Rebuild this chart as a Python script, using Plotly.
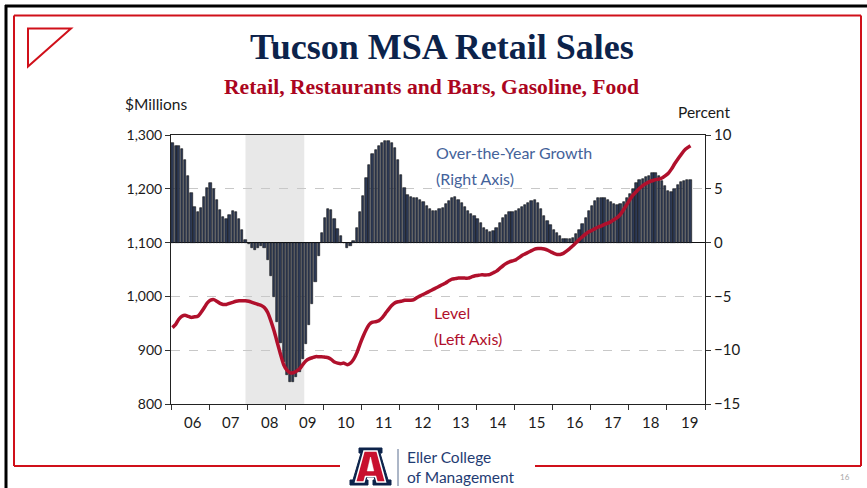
import plotly.graph_objects as go
import pandas as pd

# ---------------- data ----------------
year_labels = ["06", "07", "08", "09", "10", "11", "12", "13", "14", "15", "16", "17", "18", "19"]

growth_pct = [
    9.3, 9.0, 9.0, 8.7, 7.7, 6.2, 4.6, 3.3, 2.8, 3.2, 4.2, 5.1,            # 2006
    5.5, 5.0, 4.0, 3.0, 2.4, 2.2, 2.6, 2.9, 2.8, 2.2, 1.2, 0.2,            # 2007
    -0.1, -0.5, -0.7, -0.5, -0.3, -0.5, -1.6, -3.1, -5.1, -7.4, -9.3, -11.1,  # 2008
    -12.3, -13.0, -13.0, -12.5, -12.0, -10.8, -9.4, -7.7, -5.7, -3.7, -1.2, 0.9,  # 2009
    2.3, 3.1, 3.0, 2.2, 1.3, 0.6, 0.0, -0.5, -0.3, 0.15, 1.4, 2.8,         # 2010
    4.3, 6.0, 7.25, 8.2, 8.6, 8.95, 9.25, 9.4, 9.45, 9.3, 8.8, 7.7,        # 2011
    6.3, 5.1, 4.4, 4.2, 4.15, 4.1, 4.0, 3.8, 3.4, 3.1, 2.9, 2.9,           # 2012
    3.1, 3.2, 3.6, 3.9, 4.1, 4.2, 4.0, 3.7, 3.3, 2.9, 2.7, 2.5,            # 2013
    2.2, 1.85, 1.4, 1.2, 1.0, 1.1, 1.4, 1.85, 2.3, 2.6, 2.8, 2.8,          # 2014
    2.9, 3.1, 3.3, 3.5, 3.7, 3.9, 3.95, 3.7, 3.1, 2.5, 2.0, 1.6,           # 2015
    1.2, 0.9, 0.6, 0.37, 0.3, 0.3, 0.45, 0.77, 1.2, 1.7, 2.3, 2.9,         # 2016
    3.4, 3.85, 4.1, 4.1, 4.1, 3.95, 3.8, 3.55, 3.45, 3.55, 3.8, 4.1,       # 2017
    4.5, 5.0, 5.5, 5.8, 5.9, 6.1, 6.2, 6.5, 6.5, 6.2, 5.7, 5.25,           # 2018
    4.8, 4.7, 5.0, 5.4, 5.6, 5.7, 5.8, 5.85,                               # 2019
]

level_musd = [
    942, 948, 957, 963, 965, 963, 961, 962, 963, 970, 979, 988,            # 2006
    993, 994, 991, 987, 985, 985, 987, 989, 991, 992, 992, 992,            # 2007
    991, 989, 987, 985, 983, 979, 970, 954, 935, 914, 892, 873,            # 2008
    863, 858, 858, 861, 865, 873, 880, 884, 886, 888, 888, 888,            # 2009
    887, 886, 883, 878, 876, 875, 876, 873, 876, 883, 895, 911,            # 2010
    926, 939, 948, 952, 953, 955, 960, 968, 976, 983, 988, 990,            # 2011
    991, 993, 993, 993, 994, 998, 1001, 1004, 1007, 1010, 1013, 1016,      # 2012
    1019, 1022, 1025, 1029, 1032, 1033, 1034, 1034, 1034, 1034, 1036, 1038,  # 2013
    1039, 1040, 1040, 1040, 1041, 1044, 1047, 1052, 1057, 1061, 1064, 1066,  # 2014
    1068, 1072, 1076, 1079, 1082, 1085, 1088, 1089, 1089, 1088, 1086, 1083,  # 2015
    1080, 1078, 1078, 1080, 1084, 1089, 1094, 1100, 1106, 1111, 1116, 1120,  # 2016
    1123, 1126, 1129, 1131, 1134, 1136, 1139, 1143, 1147, 1153, 1162, 1171,  # 2017
    1181, 1189, 1195, 1201, 1206, 1210, 1213, 1215, 1217, 1218, 1220, 1224,  # 2018
    1229, 1237, 1246, 1255, 1263, 1271, 1276, 1280,                        # 2019
]

recession_start = "2007-12-15"
recession_end = "2009-06-30"

left_ticks = [800, 900, 1000, 1100, 1200, 1300]
right_ticks = [-15, -10, -5, 0, 5, 10]

months = pd.date_range("2006-01-01", periods=len(growth_pct), freq="MS") + pd.Timedelta(days=14)
year_mid = pd.date_range("2006-07-02", periods=len(year_labels), freq="12MS")

# ---------------- layout geometry helpers ----------------
W_FIG, H_FIG = 867, 488
ML, MR, MT, MB = 171, 162, 135, 84
PW = W_FIG - ML - MR
PH = H_FIG - MT - MB


def fx(x):
    return (x - ML) / PW


def fy(y):
    return (H_FIG - MB - y) / PH


def path(points):
    return "M " + " L ".join(f"{fx(a):.5f},{fy(b):.5f}" for a, b in points) + " Z"


NAVY = "#0C234B"
RED = "#AB0520"
FONT = "Lato, 'Open Sans', sans-serif"
SERIF = "'Liberation Serif', 'Times New Roman', serif"

fig = go.Figure()

fig.add_trace(go.Bar(
    x=months, y=growth_pct, yaxis="y",
    marker=dict(color="#2D3954", line=dict(color="#101010", width=0.6)),
    width=22 * 86400000,
    hoverinfo="skip",
))

fig.add_trace(go.Scatter(
    x=months, y=level_musd, yaxis="y2", mode="lines",
    line=dict(color="#B0102C", width=3.5, shape="spline", smoothing=0.6),
    hoverinfo="skip",
))

shapes = []
# recession shading
shapes.append(dict(type="rect", xref="x", yref="paper", x0=recession_start, x1=recession_end,
                   y0=0, y1=1, fillcolor="#E8E8E8", line=dict(width=0), layer="below"))
# outer black frame (top & left)
shapes.append(dict(type="line", xref="paper", yref="paper", x0=fx(5), x1=fx(867), y0=fy(6), y1=fy(6),
                   line=dict(color="black", width=3)))
shapes.append(dict(type="line", xref="paper", yref="paper", x0=fx(6), x1=fx(6), y0=fy(5), y1=fy(488),
                   line=dict(color="black", width=3)))
# red frame
RC = "#D0101A"
for (x0, y0, x1, y1) in [(14, 15.5, 861, 15.5), (14, 15.5, 14, 466), (861, 15.5, 861, 466),
                         (14, 466, 340, 466), (535, 466, 861, 466)]:
    shapes.append(dict(type="line", xref="paper", yref="paper", x0=fx(x0), x1=fx(x1), y0=fy(y0), y1=fy(y1),
                       line=dict(color=RC, width=2)))
# red triangle top-left
shapes.append(dict(type="path", xref="paper", yref="paper",
                   path=path([(28, 28.5), (71, 28.5), (28, 66.5)]),
                   line=dict(color=RC, width=2), fillcolor="rgba(0,0,0,0)"))
# Block A logo
shapes.append(dict(type="path", xref="paper", yref="paper",
                   path=path([(359, 448), (382, 448), (382, 453), (380, 453), (388, 480), (391, 480),
                              (391, 485), (373, 485), (373, 480), (375, 480), (374, 477), (367, 477),
                              (366, 480), (368, 480), (368, 485), (350, 485), (350, 480), (353, 480),
                              (361, 453), (359, 453)]),
                   line=dict(color=NAVY, width=1), fillcolor=NAVY))
shapes.append(dict(type="path", xref="paper", yref="paper",
                   path=path([(364, 451), (377, 451), (385.5, 482), (377, 482), (375.5, 476.5),
                              (365.5, 476.5), (364, 482), (355.5, 482)]),
                   line=dict(color="white", width=1.5), fillcolor="#C8102E"))
shapes.append(dict(type="path", xref="paper", yref="paper",
                   path=path([(370.5, 457), (373.8, 471), (367.2, 471)]),
                   line=dict(color="white", width=0.5), fillcolor="white"))
shapes.append(dict(type="line", xref="paper", yref="paper", x0=fx(398), x1=fx(398), y0=fy(449), y1=fy(486),
                   line=dict(color="#5A6E90", width=1)))

annotations = []
for lab, xm in zip(year_labels, year_mid):
    annotations.append(dict(x=xm, y=fy(422), xref="x", yref="paper", text=lab, showarrow=False,
                            font=dict(family=FONT, size=15, color="#1a1a1a"), yanchor="middle"))

annotations += [
    dict(x=fx(442), y=fy(47), text="<b>Tucson MSA Retail Sales</b>",
         font=dict(family=SERIF, size=36, color=NAVY)),
    dict(x=fx(431.5), y=fy(87), text="<b>Retail, Restaurants and Bars, Gasoline, Food</b>",
         font=dict(family=SERIF, size=21.6, color=RED)),
    dict(x=fx(123), y=fy(104), text="$Millions", xanchor="left",
         font=dict(family=FONT, size=15.5, color="#1a1a1a")),
    dict(x=fx(676), y=fy(112), text="Percent", xanchor="left",
         font=dict(family=FONT, size=15.5, color="#1a1a1a")),
    dict(x=fx(434), y=fy(152), text="Over-the-Year Growth", xanchor="left",
         font=dict(family=FONT, size=16, color="#44629A")),
    dict(x=fx(434), y=fy(178), text="(Right Axis)", xanchor="left",
         font=dict(family=FONT, size=16, color="#44629A")),
    dict(x=fx(432), y=fy(312), text="Level", xanchor="left",
         font=dict(family=FONT, size=16, color="#B0102C")),
    dict(x=fx(432), y=fy(338), text="(Left Axis)", xanchor="left",
         font=dict(family=FONT, size=16, color="#B0102C")),
    dict(x=fx(405), y=fy(466.5), text="Eller College<br>of Management", xanchor="left", align="left",
         font=dict(family=FONT, size=15.5, color="#1F3C73")),
    dict(x=fx(845), y=fy(477), text="16", xanchor="center",
         font=dict(family=FONT, size=8, color="#A8A8A8")),
]
for a in annotations:
    a.setdefault("xref", "paper")
    a.setdefault("yref", "paper")
    a.setdefault("showarrow", False)
    a.setdefault("yanchor", "middle")

fig.update_layout(
    width=W_FIG, height=H_FIG,
    margin=dict(l=ML, r=MR, t=MT, b=MB, pad=0),
    paper_bgcolor="white", plot_bgcolor="white",
    showlegend=False,
    bargap=0,
    font=dict(family=FONT, size=15, color="#1a1a1a"),
    xaxis=dict(
        type="date", range=["2006-01-01", "2020-01-01"],
        tickmode="linear", tick0="2006-01-01", dtick="M12",
        showticklabels=False, ticks="outside", ticklen=5, tickcolor="#333",
        showline=True, linecolor="#222", linewidth=1, mirror=True,
        showgrid=False, zeroline=False,
    ),
    yaxis=dict(
        side="right", range=[-15, 10], tickmode="array", tickvals=right_ticks,
        ticks="outside", ticklen=5, tickcolor="#333",
        showline=True, linecolor="#222", linewidth=1,
        showgrid=True, gridcolor="#C8C8C8", griddash="dash", gridwidth=1,
        zeroline=True, zerolinecolor="#111", zerolinewidth=1,
        tickfont=dict(family=FONT, size=15, color="#1a1a1a"),
    ),
    yaxis2=dict(
        side="left", overlaying="y", range=[800, 1300], tickmode="array", tickvals=left_ticks,
        tickformat=",", ticks="outside", ticklen=5, tickcolor="#333",
        showline=True, linecolor="#222", linewidth=1,
        showgrid=False, zeroline=False,
        tickfont=dict(family=FONT, size=14, color="#1a1a1a"),
    ),
    shapes=shapes,
    annotations=annotations,
)

fig.write_html("out.html", config={"displayModeBar": False},
               post_script="document.body.style.margin='0px';document.body.style.overflow='hidden';")
